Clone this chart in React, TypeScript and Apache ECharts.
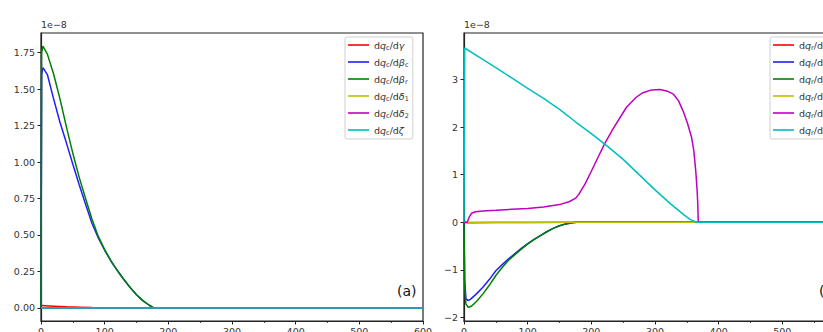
import React, { useEffect, useRef } from "react";
import * as echarts from "echarts";

// ---------- Panel (a): dq_c/d* (units of 1e-8) ----------
const aRedX = [0, 20, 40, 60, 80, 100, 600];
const aRedY = [0.016, 0.012, 0.008, 0.005, 0.002, 0, 0];
const aBlueX = [0, 1, 3, 10, 20, 30, 40, 50, 60, 70, 80, 90, 100, 110, 120, 130, 140, 150, 160, 170, 177, 600];
const aBlueY = [0, 1.6, 1.648, 1.6, 1.43, 1.27, 1.13, 0.985, 0.845, 0.71, 0.58, 0.48, 0.395, 0.32, 0.255, 0.195, 0.14, 0.09, 0.05, 0.018, 0, 0];
const aGreenX = [0, 1, 3, 10, 20, 30, 40, 50, 60, 70, 80, 90, 100, 110, 120, 130, 140, 150, 160, 170, 177, 600];
const aGreenY = [0, 1.75, 1.795, 1.74, 1.6, 1.43, 1.24, 1.06, 0.895, 0.75, 0.61, 0.49, 0.4, 0.322, 0.256, 0.196, 0.14, 0.09, 0.05, 0.018, 0, 0];
const aYellowX = [0, 600];
const aYellowY = [0, 0];
const aMagentaX = [0, 600];
const aMagentaY = [0, 0];
const aCyanX = [0, 600];
const aCyanY = [0, 0];

// ---------- Panel (b): dq_r/d* (units of 1e-8) ----------
const bRedX = [0, 5, 50, 100, 177, 600];
const bRedY = [0, -0.01, -0.008, -0.005, 0, 0];
const bBlueX = [0, 1, 3, 6, 10, 20, 30, 40, 50, 60, 70, 80, 90, 100, 110, 120, 130, 140, 150, 160, 170, 177, 600];
const bBlueY = [0, -1.2, -1.6, -1.645, -1.62, -1.5, -1.36, -1.2, -1.02, -0.89, -0.77, -0.66, -0.55, -0.45, -0.36, -0.28, -0.2, -0.13, -0.075, -0.035, -0.01, 0, 0];
const bGreenX = [0, 1, 3, 7, 12, 20, 30, 40, 50, 60, 70, 80, 90, 100, 110, 120, 130, 140, 150, 160, 170, 177, 600];
const bGreenY = [0, -1.3, -1.72, -1.79, -1.76, -1.66, -1.5, -1.32, -1.12, -0.95, -0.8, -0.68, -0.565, -0.46, -0.365, -0.282, -0.2, -0.13, -0.075, -0.035, -0.01, 0, 0];
const bYellowX = [0, 600];
const bYellowY = [0, 0];
const bMagentaX = [0, 5, 8, 12, 18, 30, 50, 75, 100, 125, 150, 165, 175, 180, 190, 200, 210, 221, 235, 255, 270, 281, 295, 308, 320, 329, 337, 344, 351, 357.5, 361, 364, 366, 367, 368, 600];
const bMagentaY = [0, 0, 0.1, 0.19, 0.22, 0.235, 0.25, 0.27, 0.29, 0.32, 0.37, 0.43, 0.5, 0.58, 0.8, 1.07, 1.35, 1.65, 1.98, 2.41, 2.62, 2.72, 2.78, 2.79, 2.75, 2.69, 2.55, 2.34, 2.08, 1.78, 1.5, 1.08, 0.7, 0.45, 0, 0];
const bCyanX = [0, 1, 25, 50, 75, 100, 125, 150, 175, 200, 225, 250, 275, 300, 325, 345, 355, 365, 600];
const bCyanY = [0, 3.66, 3.46, 3.25, 3.03, 2.81, 2.6, 2.37, 2.11, 1.86, 1.6, 1.32, 1.0, 0.68, 0.38, 0.16, 0.06, 0, 0];

// ---------- Labels / ticks ----------
const xTicks = [0, 100, 200, 300, 400, 500, 600];
const aYTicks = [0, 0.25, 0.5, 0.75, 1.0, 1.25, 1.5, 1.75];
const bYTicks = [-2, -1, 0, 1, 2, 3];
const aNames = ["dqc/dγ", "dqc/dβc", "dqc/dβr", "dqc/dδ1", "dqc/dδ2", "dqc/dζ"];
const bNames = ["dqr/dγ", "dqr/dβc", "dqr/dβr", "dqr/dδ1", "dqr/dδ2", "dqr/dζ"];
const aRich = [
  "d{i|q}{s|c}/d{i|γ}",
  "d{i|q}{s|c}/d{i|β}{s|c}",
  "d{i|q}{s|c}/d{i|β}{s|r}",
  "d{i|q}{s|c}/d{i|δ}{s|1}",
  "d{i|q}{s|c}/d{i|δ}{s|2}",
  "d{i|q}{s|c}/d{i|ζ}",
];
const bRich = aRich.map((s) => s.replace("{s|c}/", "{s|r}/"));
const colors = ["#ff0000", "#1f1fff", "#008000", "#bfbf00", "#bf00bf", "#00bfbf"];

const FONT = "DejaVu Sans";
const TXT = "#333";

const zip = (xs: number[], ys: number[]) => xs.map((x, i) => [x, ys[i]]);

export default function App() {
  const ref = useRef<HTMLDivElement>(null);
  useEffect(() => {
    if (!ref.current) return;
    const chart = echarts.init(ref.current, null, { renderer: "svg" });
    const aData = [
      zip(aRedX, aRedY), zip(aBlueX, aBlueY), zip(aGreenX, aGreenY),
      zip(aYellowX, aYellowY), zip(aMagentaX, aMagentaY), zip(aCyanX, aCyanY),
    ];
    const bData = [
      zip(bRedX, bRedY), zip(bBlueX, bBlueY), zip(bGreenX, bGreenY),
      zip(bYellowX, bYellowY), zip(bMagentaX, bMagentaY), zip(bCyanX, bCyanY),
    ];
    const richStyle = {
      i: { fontStyle: "italic", fontFamily: FONT, fontSize: 9.5, color: TXT },
      s: { fontSize: 6.5, fontFamily: FONT, color: TXT, verticalAlign: "bottom", lineHeight: 7, padding: [3, 0, 0, 0] },
    };
    const mkX = (gi: number) => ({
      type: "value",
      gridIndex: gi,
      min: 0,
      max: 600,
      interval: 100,
      splitLine: { show: false },
      axisLine: { show: true, onZero: false, lineStyle: { color: "#222", width: 1.2 } },
      axisTick: { show: true, length: 3.5, lineStyle: { color: "#222", width: 1 } },
      minorTick: { show: true, splitNumber: 2, length: 2, lineStyle: { color: "#222", width: 0.8 } },
      axisLabel: { show: true, margin: 5, fontSize: 9.5, fontFamily: FONT, color: TXT, customValues: xTicks },
    });
    const fmtB = (v: number) => (v < 0 ? "\u2212" + Math.abs(v) : String(v));
    const mkY = (gi: number, min: number, max: number, ticks: number[], fmt: (v: number) => string) => ({
      type: "value",
      gridIndex: gi,
      min,
      max,
      splitLine: { show: false },
      axisLine: { show: true, onZero: false, lineStyle: { color: "#222", width: 1.2 } },
      axisTick: { show: true, length: 3.5, customValues: ticks, lineStyle: { color: "#222", width: 1 } },
      axisLabel: { show: true, margin: 6, fontSize: 9.5, fontFamily: FONT, color: TXT, customValues: ticks, formatter: fmt },
    });
    const series: any[] = [];
    aNames.forEach((n, k) =>
      series.push({
        name: n, type: "line", xAxisIndex: 0, yAxisIndex: 0, data: aData[k],
        symbol: "none", showSymbol: false, smooth: false,
        lineStyle: { color: colors[k], width: 1.5 }, itemStyle: { color: colors[k] },
      })
    );
    bNames.forEach((n, k) =>
      series.push({
        name: n, type: "line", xAxisIndex: 1, yAxisIndex: 1, data: bData[k],
        symbol: "none", showSymbol: false, smooth: false,
        lineStyle: { color: colors[k], width: 1.5 }, itemStyle: { color: colors[k] },
      })
    );
    const mkLegend = (names: string[], rich: string[], left: number) => ({
      data: names,
      orient: "vertical",
      left,
      top: 37,
      icon: "rect",
      itemWidth: 21,
      itemHeight: 1.6,
      itemGap: 5,
      padding: [2, 4, 3, 3],
      borderColor: "#d0d0d0",
      borderWidth: 1,
      borderRadius: 2,
      backgroundColor: "rgba(255,255,255,0.85)",
      selectedMode: false,
      formatter: (name: string) => rich[names.indexOf(name)],
      textStyle: { fontFamily: FONT, fontSize: 9.5, color: TXT, lineHeight: 12, rich: richStyle },
    });
    chart.setOption({
      animation: false,
      backgroundColor: "#fff",
      grid: [
        { left: 41, top: 33, width: 382, height: 288, show: true, borderColor: "#222", borderWidth: 1.2, backgroundColor: "transparent", containLabel: false, outerBoundsMode: "none" },
        { left: 464, top: 33, width: 382, height: 288, show: true, borderColor: "#222", borderWidth: 1.2, backgroundColor: "transparent", containLabel: false, outerBoundsMode: "none" },
      ],
      xAxis: [mkX(0), mkX(1)],
      yAxis: [
        mkY(0, -0.09, 1.885, aYTicks, (v: number) => v.toFixed(2)),
        mkY(1, -2.075, 3.975, bYTicks, fmtB),
      ],
      legend: [mkLegend(aNames, aRich, 345), mkLegend(bNames, bRich, 770)],
      graphic: [
        { type: "text", left: 41, top: 19, style: { text: "1e\u22128", fontFamily: FONT, fontSize: 9.5, fill: TXT } },
        { type: "text", left: 464, top: 19, style: { text: "1e\u22128", fontFamily: FONT, fontSize: 9.5, fill: TXT } },
        { type: "text", left: 397, top: 284, style: { text: "(a)", fontFamily: FONT, fontSize: 14, fill: "#111" } },
        { type: "text", left: 819, top: 284, style: { text: "(b)", fontFamily: FONT, fontSize: 14, fill: "#111" } },
      ],
      series,
    });
    return () => chart.dispose();
  }, []);
  return <div ref={ref} style={{ position: "fixed", left: 0, top: 0, width: 823, height: 332 }} />;
}
